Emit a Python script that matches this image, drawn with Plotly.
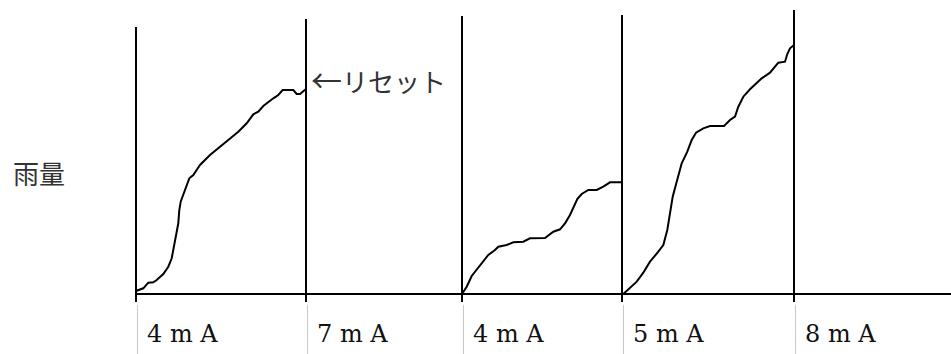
import plotly.graph_objects as go

# Reset moments (time axis) and heights of the reset markers
reset_times = [0, 170, 326, 486, 658]
marker_tops = [267, 275, 278, 279, 284]
currents = ["4 m A", "7 m A", "4 m A", "5 m A", "8 m A"]

# Accumulated rainfall curves (time, rainfall)
c1_t = [0, 0.7, 7.3, 12.3, 17.3, 20.7, 27.3, 32.3, 35.7, 38, 40.7, 42.3, 43.3, 44.7, 49, 53.3, 57.3,
        64, 74, 84, 92.3, 102.3, 110.7, 117.3, 122.3, 127.3, 137.3, 142.3, 146.7, 157.3, 160.7, 164,
        166.7, 169.7]
c1_r = [2.3, 3.3, 5.7, 11.3, 11.7, 14, 20, 27.3, 35.7, 47.3, 59, 70.7, 84, 92.3, 104, 115.7, 119,
        129, 139, 147.3, 154.7, 162.3, 170.7, 179.7, 182.3, 188, 195.7, 199, 204, 204, 200, 200,
        202.3, 204.7]

c3_t = [326, 330.7, 335.7, 340.7, 345.7, 352.3, 359, 362.3, 370.7, 377.3, 387.3, 394, 409, 417.3,
        424, 429, 434, 438, 441.3, 445.7, 452.3, 460.7, 467.3, 474, 485.7]
c3_r = [0, 7.3, 18, 24, 30.7, 39, 44, 47.3, 49, 51.7, 52.3, 55.7, 56, 62.3, 64.7, 70.7, 79, 87.3,
        95, 100, 104, 104, 107.3, 111.7, 111.7]

c4_t = [487.3, 494, 500.7, 507.3, 514, 522.3, 527.3, 531.3, 534, 536.7, 540.7, 545.7, 551.3, 555.7,
        560, 567.3, 574, 588, 594, 599, 602.3, 607.3, 614, 619, 625.7, 634, 642.3, 649, 651.3, 654,
        658]
c4_r = [0, 5.7, 12.3, 21.3, 32.3, 42.3, 49, 64, 80.7, 97.3, 112.3, 130.7, 142.3, 154, 161.3, 165.7,
        168, 168, 174, 177.3, 187.3, 197.3, 204.7, 209, 215.7, 221.3, 231.3, 232.3, 240, 245.7, 249]

fig = go.Figure()
for t, r in [(c1_t, c1_r), (c3_t, c3_r), (c4_t, c4_r)]:
    fig.add_trace(go.Scatter(x=t, y=r, mode="lines",
                             line=dict(color="black", width=2), hoverinfo="skip",
                             showlegend=False))

shapes = []
# baseline
shapes.append(dict(type="line", xref="x", yref="y", x0=-1, x1=815, y0=0, y1=0,
                   line=dict(color="black", width=2)))
for t, top in zip(reset_times, marker_tops):
    shapes.append(dict(type="line", xref="x", yref="y", x0=t, x1=t, y0=-8, y1=top,
                       line=dict(color="black", width=2)))
    shapes.append(dict(type="line", xref="x", yref="y", x0=t + 1.5, x1=t + 1.5, y0=-11, y1=-62,
                       line=dict(color="#c8c8c8", width=1)))

annotations = []
for t, lab in zip(reset_times, currents):
    annotations.append(dict(x=t + 9, y=-40, xref="x", yref="y", text=lab, showarrow=False,
                            xanchor="left", yanchor="middle",
                            font=dict(family="DejaVu Serif", size=24, color="#111")))
annotations.append(dict(x=-97.5, y=122, xref="x", yref="y", text="雨量", showarrow=False,
                        xanchor="center", yanchor="middle",
                        font=dict(family="Noto Sans CJK JP", size=26, color="#333")))
annotations.append(dict(x=reset_times[1] + 3, y=216, xref="x", yref="y",
                        text='<span style="font-size:31px">←</span>リセット',
                        showarrow=False, xanchor="left", yanchor="middle",
                        font=dict(family="Noto Sans CJK JP", size=26, color="#333")))

fig.update_layout(
    width=951, height=354,
    margin=dict(l=0, r=0, t=0, b=0),
    paper_bgcolor="white", plot_bgcolor="white",
    xaxis=dict(range=[-136, 815], visible=False, fixedrange=True),
    yaxis=dict(range=[-60, 294], visible=False, fixedrange=True),
    shapes=shapes, annotations=annotations,
    showlegend=False,
)
fig.write_html("out.html", config={"displayModeBar": False},
               post_script="document.body.style.margin='0';document.body.style.padding='0';")
